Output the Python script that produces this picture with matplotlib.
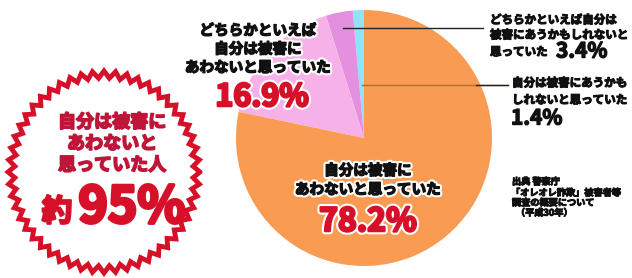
import numpy as np
import matplotlib
matplotlib.use("Agg")
import matplotlib.pyplot as plt
import matplotlib.patheffects as pe

plt.rcParams['font.family'] = ['Noto Sans CJK JP', 'DejaVu Sans']

# ---- data ----
categories = [
    "自分は被害にあうかもしれないと思っていた",
    "どちらかといえば自分は被害にあうかもしれないと思っていた",
    "どちらかといえば自分は被害にあわないと思っていた",
    "自分は被害にあわないと思っていた",
]
values = [1.4, 3.4, 16.9, 78.2]
value_labels = ["1.4%", "3.4%", "16.9%", "78.2%"]
colors = ["#8EE3F7", "#E590DE", "#F6B2E8", "#F99B52"]
badge_lines = ["自分は被害に", "あわないと", "思っていた人"]
badge_value = "95%"
source_lines = ["出典 警察庁", "「オレオレ詐欺」被害者等", "調査の概要について", "（平成30年）"]

W, H = 632, 278
fig = plt.figure(figsize=(W / 100, H / 100), dpi=100)
fig.patch.set_facecolor("white")

# pie axes (pixel layout)
cx, cy, r = 364, 138, 128
axp = fig.add_axes([(cx - r) / W, (H - cy - r) / H, 2 * r / W, 2 * r / H])
axp.pie(values, colors=colors, startangle=90, counterclock=True,
        wedgeprops=dict(linewidth=0))
axp.set_xlim(-1, 1)
axp.set_ylim(-1, 1)
axp.set_aspect('equal')
axp.axis('off')

# overlay axes in pixel coords
ax = fig.add_axes([0, 0, 1, 1])
ax.set_xlim(0, W)
ax.set_ylim(H, 0)
ax.axis('off')
ax.patch.set_alpha(0)

RED = "#D7102A"
CRIM = "#BF1539"
INK = "#111111"


def bold(color, w=0.9, halo=False):
    eff = []
    if halo:
        eff.append(pe.withStroke(linewidth=w + 3, foreground="white"))
    eff.append(pe.withStroke(linewidth=w, foreground=color))
    return eff


# starburst badge
scx, scy = 104, 172
n = 52
ang = np.linspace(0, 2 * np.pi, 2 * n + 1)
rad = np.where(np.arange(2 * n + 1) % 2 == 0, 1.0, 0.93)
sx = scx + 96 * rad * np.cos(ang)
sy = scy + 101 * rad * np.sin(ang)
ax.fill(sx, sy, facecolor="white", edgecolor=RED, linewidth=3.5, zorder=2)

for i, t in enumerate(badge_lines):
    ax.text(112, 122 + i * 21.5, t, ha='center', va='center', fontsize=13,
            fontweight='bold', color=CRIM, zorder=3, path_effects=bold(CRIM, 1.2))
ax.text(57, 212, "約", ha='center', va='center', fontsize=22,
        fontweight='bold', color=RED, zorder=3, path_effects=bold(RED, 1.6))
ax.text(132, 208, badge_value, ha='center', va='center', fontsize=36,
        fontweight='bold', color=RED, zorder=3, path_effects=bold(RED, 2.5))

# pink slice label
for i, t in enumerate(["どちらかといえば", "自分は被害に", "あわないと思っていた"]):
    ax.text(258, 30 + i * 18.5, t, ha='center', va='center', fontsize=10.5,
            fontweight='bold', color=INK, zorder=3, path_effects=bold(INK, 1.0, True))
ax.text(262, 97, value_labels[2], ha='center', va='center', fontsize=22,
        fontweight='bold', color=RED, zorder=3, path_effects=bold(RED, 1.8, True))

# main slice label
ax.text(368, 170, "自分は被害に", ha='center', va='center', fontsize=10.5,
        fontweight='bold', color=INK, zorder=3, path_effects=bold(INK, 1.0, True))
ax.text(368, 189, "あわないと思っていた", ha='center', va='center', fontsize=10.5,
        fontweight='bold', color=INK, zorder=3, path_effects=bold(INK, 1.0, True))
ax.text(368, 222, value_labels[3], ha='center', va='center', fontsize=23,
        fontweight='bold', color=RED, zorder=3, path_effects=bold(RED, 1.8, True))

# leader lines
ax.plot([343, 483], [28, 28], color="#222222", linewidth=1.0, zorder=3)
ax.plot([362, 508], [85, 85], color="#B07030", linewidth=1.0, zorder=3)
ax.plot([476, 508], [85, 85], color="#222222", linewidth=1.0, zorder=3)

# right labels
for x, y, t in [(490, 20, "どちらかといえば自分は"),
                (490, 35, "被害にあうかもしれないと"),
                (490, 52, "思っていた"),
                (512, 83, "自分は被害にあうかも"),
                (512, 100, "しれないと思っていた")]:
    ax.text(x, y, t, ha='left', va='center', fontsize=8.3,
            fontweight='bold', color=INK, path_effects=bold(INK, 0.8))
ax.text(556, 51, value_labels[1], ha='left', va='center', fontsize=15,
        fontweight='bold', color=INK, path_effects=bold(INK, 1.0))
ax.text(511, 118, value_labels[0], ha='left', va='center', fontsize=15,
        fontweight='bold', color=INK, path_effects=bold(INK, 1.0))

# source
ys = [182, 193, 203, 213]
xs = [512, 511, 512, 516]
for x, y, t in zip(xs, ys, source_lines):
    ax.text(x, y, t, ha='left', va='center', fontsize=6.6,
            fontweight='bold', color=INK, path_effects=bold(INK, 0.7))

fig.savefig("out.png", dpi=100, facecolor="white")
